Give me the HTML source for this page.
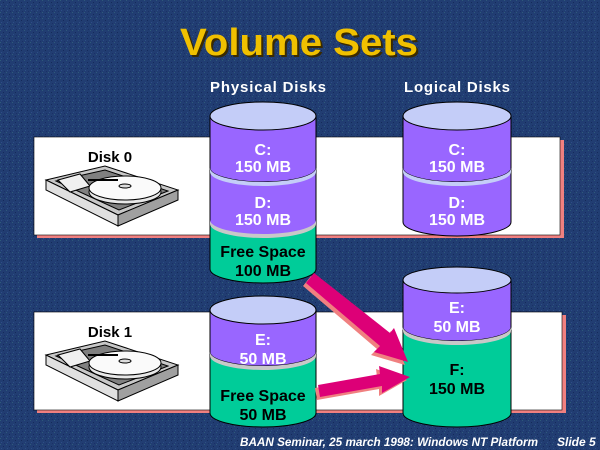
<!DOCTYPE html>
<html><head><meta charset="utf-8"><style>
html,body{margin:0;padding:0;background:#1f3a6e;}
svg{display:block;}
text{font-family:"Liberation Sans",sans-serif;font-weight:bold;}
</style></head><body>
<svg width="600" height="450" viewBox="0 0 600 450" xmlns="http://www.w3.org/2000/svg">
<defs>
<pattern id="n" width="6" height="6" patternUnits="userSpaceOnUse">
<rect width="6" height="6" fill="#213d72"/>
<rect x="0" y="0" width="1" height="1" fill="#2e5a7a"/>
<rect x="3" y="2" width="1" height="1" fill="#152a5a"/>
<rect x="1" y="4" width="1" height="1" fill="#2d4f86"/>
<rect x="4" y="5" width="1" height="1" fill="#1a3166"/>
</pattern>
</defs>
<rect width="600" height="450" fill="url(#n)"/>
<text x="301" y="57" font-size="38" fill="#3a2a00" textLength="238" lengthAdjust="spacingAndGlyphs" text-anchor="middle">Volume Sets</text>
<text x="299" y="55" font-size="38" fill="#f0c000" textLength="238" lengthAdjust="spacingAndGlyphs" text-anchor="middle">Volume Sets</text>
<text x="268" y="92" font-size="15" fill="#fff" text-anchor="middle" textLength="116" lengthAdjust="spacing">Physical Disks</text>
<text x="457" y="92" font-size="15" fill="#fff" text-anchor="middle" textLength="106" lengthAdjust="spacing">Logical Disks</text>

<!-- bands -->
<rect x="37" y="140" width="527" height="98" fill="#f08080"/>
<rect x="34" y="137" width="526" height="98" fill="#fff" stroke="#000" stroke-width="0.6"/>
<rect x="37" y="315" width="529" height="98" fill="#f08080"/>
<rect x="34" y="312" width="528" height="98" fill="#fff" stroke="#000" stroke-width="0.6"/>

<text x="110" y="162" font-size="15" fill="#000" text-anchor="middle">Disk 0</text>
<text x="110" y="337" font-size="15" fill="#000" text-anchor="middle">Disk 1</text>

<!-- disk drawings -->
<g id="hd" stroke="#000" stroke-width="1">
<polygon points="46,180 105,166 178,190 118,215" fill="#c8c8c8"/>
<polygon points="46,180 46,190 118,226 118,215" fill="#e0e0e0"/>
<polygon points="118,215 178,190 178,200 118,226" fill="#a0a0a0"/>
<polygon points="56,181 105,170 168,191 119,210" fill="#808080"/>
<polygon points="58,180 80,174 90,186 70,192" fill="#f0f0f0"/>
<ellipse cx="125" cy="192" rx="36" ry="12" fill="#e8e8e8"/>
<ellipse cx="125" cy="188" rx="36" ry="12" fill="#fafafa"/>
<ellipse cx="125" cy="186" rx="6" ry="2" fill="#ddd"/>
<line x1="88" y1="180" x2="118" y2="180" stroke-width="2"/>
</g>
<use href="#hd" transform="translate(0,175)"/>

<!-- physical disk 0 cylinder -->
<g stroke="#000" stroke-width="1">
<path d="M210,222 V269 A53,14 0 0 0 316,269 V222 Z" fill="#00cc99"/>
<path d="M210,170 V222 A53,14 0 0 0 316,222 V170 Z" fill="#9966ff"/>
<path d="M210,116 V168 A53,14 0 0 0 316,168 V116 Z" fill="#9966ff"/>
<ellipse cx="263" cy="116" rx="53" ry="14" fill="#c4cdf8"/>
</g>
<path d="M210,168 A53,14 0 0 0 316,168 L316,172 A53,14 0 0 1 210,172Z" fill="#c4cdf8"/>
<path d="M210,220 A53,14 0 0 0 316,220 L316,224 A53,14 0 0 1 210,224Z" fill="#c8c8c8"/>

<!-- logical C/D -->
<g stroke="#000" stroke-width="1">
<path d="M403,170 V222 A54,14 0 0 0 511,222 V170 Z" fill="#9966ff"/>
<path d="M403,116 V168 A54,14 0 0 0 511,168 V116 Z" fill="#9966ff"/>
<ellipse cx="457" cy="116" rx="54" ry="14" fill="#c4cdf8"/>
</g>
<path d="M403,168 A54,14 0 0 0 511,168 L511,172 A54,14 0 0 1 403,172Z" fill="#c4cdf8"/>

<!-- physical disk 1 -->
<g stroke="#000" stroke-width="1">
<path d="M210,354 V413 A53,14 0 0 0 316,413 V354 Z" fill="#00cc99"/>
<path d="M210,310 V352 A53,14 0 0 0 316,352 V310 Z" fill="#9966ff"/>
<ellipse cx="263" cy="310" rx="53" ry="14" fill="#c4cdf8"/>
</g>
<path d="M210,352 A53,14 0 0 0 316,352 L316,356 A53,14 0 0 1 210,356Z" fill="#c8c8c8"/>

<!-- logical E/F -->
<g stroke="#000" stroke-width="1">
<path d="M403,330 V413 A54,14 0 0 0 511,413 V330 Z" fill="#00cc99"/>
<path d="M403,280 V327 A54,14 0 0 0 511,327 V280 Z" fill="#9966ff"/>
<ellipse cx="457" cy="280" rx="54" ry="13" fill="#c4cdf8"/>
</g>
<path d="M403,327 A54,14 0 0 0 511,327 L511,331 A54,14 0 0 1 403,331Z" fill="#c8c8c8"/>

<!-- arrows -->
<g transform="translate(-3,3)" fill="#f08080">
<polygon points="306,283 314,273 390,333 394,328 408,362 374,352 380,346"/>
<polygon points="318,385 380,374 379,366 410,377 382,393 382,386 320,397"/>
</g>
<g fill="#dd0077">
<polygon points="306,283 314,273 390,333 394,328 408,362 374,352 380,346"/>
<polygon points="318,385 380,374 379,366 410,377 382,393 382,386 320,397"/>
</g>

<g font-size="16" text-anchor="middle">
<text x="263" y="155" fill="#fff">C:</text>
<text x="263" y="172" fill="#fff">150 MB</text>
<text x="263" y="208" fill="#fff">D:</text>
<text x="263" y="225" fill="#fff">150 MB</text>
<text x="263" y="257" fill="#000">Free Space</text>
<text x="263" y="276" fill="#000">100 MB</text>
<text x="457" y="155" fill="#fff">C:</text>
<text x="457" y="172" fill="#fff">150 MB</text>
<text x="457" y="208" fill="#fff">D:</text>
<text x="457" y="225" fill="#fff">150 MB</text>
<text x="263" y="345" fill="#fff">E:</text>
<text x="263" y="364" fill="#fff">50 MB</text>
<text x="263" y="401" fill="#000">Free Space</text>
<text x="263" y="420" fill="#000">50 MB</text>
<text x="457" y="313" fill="#fff">E:</text>
<text x="457" y="332" fill="#fff">50 MB</text>
<text x="457" y="375" fill="#000">F:</text>
<text x="457" y="394" fill="#000">150 MB</text>
</g>
<text x="240" y="446" font-size="12" font-style="italic" fill="#fff" textLength="298" lengthAdjust="spacingAndGlyphs">BAAN Seminar, 25 march 1998: Windows NT Platform</text>
<text x="557" y="446" font-size="12" font-style="italic" fill="#fff">Slide 5</text>
</svg>
</body></html>
